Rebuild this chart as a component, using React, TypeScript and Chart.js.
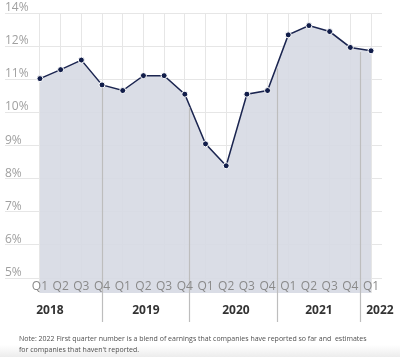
import React, { useEffect, useRef } from "react";
import { Chart, registerables } from "chart.js";

Chart.register(...registerables);

const quarters = ["Q1","Q2","Q3","Q4","Q1","Q2","Q3","Q4","Q1","Q2","Q3","Q4","Q1","Q2","Q3","Q4","Q1"];
const margins = [11.02,11.29,11.58,10.83,10.66,11.11,11.11,10.55,9.05,8.39,10.55,10.66,12.34,12.62,12.44,11.96,11.86];
const yTickValues = [5,6,7,8,9,10,11,12,13];
const yTickLabels = ["5%","6%","7%","8%","9%","10%","11%","12%","14%"];
const years = ["2018","2019","2020","2021","2022"];
const yearCenters = [0.48, 5.12, 9.47, 13.48, 16.43];
const separators = [3.0, 7.2, 11.45, 15.47];
const noteLines = [
  "Note: 2022 First quarter number is a blend of earnings that companies have reported so far and  estimates",
  "for companies that haven't reported.",
];

const FONT = "'Open Sans', 'Noto Sans', sans-serif";

export default function App() {
  const ref = useRef<HTMLCanvasElement | null>(null);
  useEffect(() => {
    if (!ref.current) return;
    const labelsPlugin = {
      id: "labelsPlugin",
      afterDatasetsDraw(chart: any) {
        const ctx = chart.ctx;
        const xs = chart.scales.x;
        const ys = chart.scales.y;
        ctx.save();
        // separators
        ctx.strokeStyle = "#bdbdbd";
        ctx.lineWidth = 1.2;
        separators.forEach((s) => {
          const i = Math.floor(s);
          const f = s - i;
          const v = i + 1 < margins.length ? margins[i] * (1 - f) + margins[i + 1] * f : margins[i];
          const x = Math.round(xs.getPixelForValue(s)) + 0.5;
          ctx.beginPath();
          ctx.moveTo(x, ys.getPixelForValue(v) + 3);
          ctx.lineTo(x, 322);
          ctx.stroke();
        });
        // y labels
        ctx.fillStyle = "#a0a0a0";
        ctx.font = `12px ${FONT}`;
        ctx.textAlign = "left";
        ctx.textBaseline = "alphabetic";
        yTickValues.forEach((v, k) => {
          ctx.fillText(yTickLabels[k], 5, ys.getPixelForValue(v) - 2);
        });
        // quarter labels
        ctx.fillStyle = "#8a8a8a";
        ctx.textAlign = "center";
        ctx.textBaseline = "middle";
        quarters.forEach((q, k) => {
          ctx.fillText(q, xs.getPixelForValue(k), 287);
        });
        // year labels
        ctx.fillStyle = "#333333";
        ctx.font = `bold 12px ${FONT}`;
        years.forEach((y, k) => {
          ctx.fillText(y, xs.getPixelForValue(yearCenters[k]), 311);
        });
        // note
        ctx.fillStyle = "#505050";
        ctx.font = `7px ${FONT}`;
        ctx.textAlign = "left";
        noteLines.forEach((t, k) => {
          ctx.fillText(t, 19, 339 + k * 11);
        });
        ctx.restore();
      },
    };
    const chart = new Chart(ref.current, {
      type: "line",
      data: {
        datasets: [
          {
            data: margins.map((v, i) => ({ x: i, y: v })),
            borderColor: "#1b2550",
            borderWidth: 1.5,
            backgroundColor: "rgba(214,217,227,0.9)",
            fill: "start",
            pointRadius: 3,
            pointBackgroundColor: "#111d4a",
            pointBorderColor: "#ffffff",
            pointBorderWidth: 1,
            tension: 0,
          },
        ],
      },
      options: {
        animation: false,
        responsive: false,
        maintainAspectRatio: false,
        layout: { padding: { left: 5, top: 13, right: 18, bottom: 64 } },
        plugins: { legend: { display: false }, tooltip: { enabled: false } },
        scales: {
          x: {
            type: "linear",
            min: -1.69,
            max: 16.53,
            afterBuildTicks: (s: any) => {
              s.ticks = quarters.map((_, i) => ({ value: i }));
            },
            ticks: { display: false },
            grid: { color: "#e6e6e6", drawTicks: false, lineWidth: 1 },
            border: { display: false },
          },
          y: {
            min: 4.55,
            max: 13,
            afterBuildTicks: (s: any) => {
              s.ticks = yTickValues.map((v) => ({ value: v }));
            },
            ticks: { display: false },
            grid: { color: "#e6e6e6", drawTicks: false, lineWidth: 1 },
            border: { display: false },
          },
        },
      },
      plugins: [labelsPlugin],
    });
    return () => chart.destroy();
  }, []);
  return (
    <div style={{ position: "fixed", left: 0, top: 0, width: 400, height: 357, background: "#fff" }}>
      <div
        style={{
          position: "absolute",
          left: 0,
          top: 345,
          width: 400,
          height: 12,
          background: "linear-gradient(#ffffff, #ececec)",
        }}
      />
      <canvas ref={ref} width={400} height={357} style={{ position: "absolute", left: 0, top: 0 }} />
    </div>
  );
}
